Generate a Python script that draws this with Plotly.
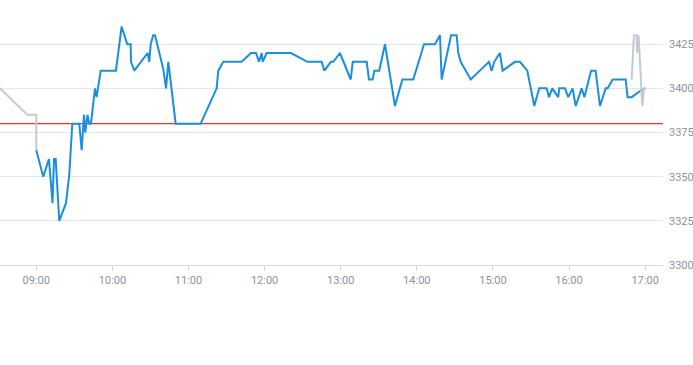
import plotly.graph_objects as go

DAY = "2024-01-02 "

# Pre-market (grey) segment
pre_times = ["08:30:00", "08:52:54", "09:00:00", "09:00:00"]
pre_values = [3401, 3385, 3385, 3365]

# Main session (blue)
main_times = [
    "09:00:00", "09:05:30", "09:10:00", "09:12:48", "09:14:00", "09:15:18", "09:18:06",
    "09:23:24", "09:26:00", "09:28:24", "09:33:54", "09:35:48", "09:37:36", "09:38:36",
    "09:40:24", "09:41:48", "09:43:06", "09:46:18", "09:47:36", "09:50:48", "10:02:48",
    "10:07:18", "10:11:42", "10:14:24", "10:14:42", "10:17:18", "10:27:48", "10:29:06",
    "10:30:12", "10:32:12", "10:33:36", "10:40:06", "10:42:18", "10:44:06", "10:49:54",
    "11:09:36", "11:22:12", "11:23:30", "11:27:24", "11:41:54", "11:49:18", "11:53:12",
    "11:55:36", "11:57:42", "11:58:30", "12:01:36", "12:20:48", "12:33:42", "12:45:00",
    "12:47:06", "12:52:18", "12:54:12", "12:59:24", "13:07:54", "13:09:30", "13:20:30",
    "13:22:18", "13:25:12", "13:26:30", "13:30:24", "13:34:54", "13:42:48", "13:48:36",
    "13:57:12", "14:05:42", "14:14:18", "14:18:18", "14:19:36", "14:27:00", "14:31:24",
    "14:32:42", "14:34:36", "14:42:30", "14:56:54", "14:59:00", "15:01:06", "15:05:30",
    "15:07:42", "15:17:24", "15:21:18", "15:27:06", "15:32:36", "15:36:30", "15:42:24",
    "15:44:12", "15:46:48", "15:51:30", "15:52:18", "15:56:48", "15:59:24", "16:02:48",
    "16:05:18", "16:10:00", "16:12:06", "16:17:24", "16:21:00", "16:24:24", "16:28:54",
    "16:30:30", "16:34:24", "16:44:42", "16:46:12", "16:49:24", "16:56:00", "17:00:00",
]
main_values = [
    3365, 3350, 3360, 3335, 3360, 3360, 3325,
    3335, 3351, 3380, 3380, 3365, 3385, 3375,
    3385, 3380, 3380, 3400, 3395, 3410, 3410,
    3435, 3425, 3425, 3415, 3410, 3420, 3415,
    3425, 3430, 3430, 3411, 3400, 3415, 3380,
    3380, 3400, 3410, 3415, 3415, 3420, 3420,
    3415, 3420, 3415, 3420, 3420, 3415, 3415,
    3410, 3415, 3415, 3420, 3405, 3415, 3415,
    3405, 3405, 3410, 3410, 3425, 3390, 3405,
    3405, 3425, 3425, 3430, 3405, 3430, 3430,
    3420, 3415, 3405, 3415, 3410, 3415, 3420,
    3410, 3415, 3415, 3410, 3390, 3400, 3400,
    3395, 3400, 3395, 3400, 3400, 3395, 3400,
    3390, 3400, 3395, 3410, 3410, 3390, 3400,
    3400, 3405, 3405, 3395, 3395, 3398.5, 3400,
]

# Post-market (grey) segment
post_times = ["16:49:24", "16:51:12", "16:53:12", "16:53:48", "16:54:48", "16:57:48", "16:59:06", "17:00:42"]
post_values = [3405, 3430, 3430, 3420, 3430, 3390, 3400, 3400]

PREV_CLOSE = 3380
Y_TICKS = [3300, 3325, 3350, 3375, 3400, 3425]
Y_RANGE = [3300, 3450]
X_RANGE = ["08:31:24", "17:14:06"]

BLUE = "#1a8fdd"
GREY = "#c3cad2"
RED = "#e8352e"

fig = go.Figure()
fig.add_trace(go.Scatter(x=[DAY + t for t in X_RANGE], y=[PREV_CLOSE, PREV_CLOSE], mode="lines",
                         line=dict(color=RED, width=1.2), hoverinfo="skip"))
fig.add_trace(go.Scatter(x=[DAY + t for t in pre_times], y=pre_values, mode="lines",
                         line=dict(color=GREY, width=2), hoverinfo="skip"))
fig.add_trace(go.Scatter(x=[DAY + t for t in main_times], y=main_values, mode="lines",
                         line=dict(color=BLUE, width=2)))
fig.add_trace(go.Scatter(x=[DAY + t for t in post_times], y=post_values, mode="lines",
                         line=dict(color=GREY, width=2), hoverinfo="skip"))

fig.update_layout(
    width=693, height=365,
    margin=dict(l=0, r=30, t=0, b=100),
    paper_bgcolor="white", plot_bgcolor="white",
    showlegend=False,
    font=dict(family="Roboto, 'Liberation Sans', sans-serif", size=11, color="#8a939e"),
)
fig.update_xaxes(
    type="date",
    range=[DAY + X_RANGE[0], DAY + X_RANGE[1]],
    tick0=DAY + "09:00:00", dtick=3600000, tickformat="%H:%M",
    showgrid=False, zeroline=False,
    showline=True, linecolor="#d3d7dd", linewidth=1,
    ticks="outside", ticklen=5, tickcolor="#d3d7dd", tickwidth=1,
)
fig.update_yaxes(
    side="right", range=Y_RANGE, tickvals=Y_TICKS,
    showgrid=True, gridcolor="#e4e6ea", gridwidth=1,
    zeroline=False, showline=False, ticks="",
    ticklabelstandoff=5,
)

fig.write_html("out.html")
